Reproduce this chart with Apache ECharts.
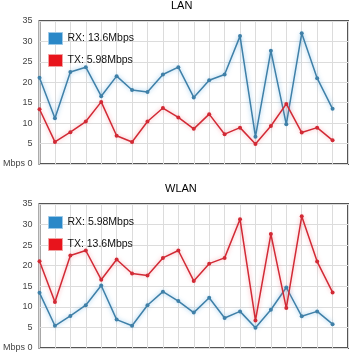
<!DOCTYPE html>
<html><head><meta charset="utf-8">
<script src="https://cdn.jsdelivr.net/npm/echarts@6/dist/echarts.min.js"></script>
<style>html,body{margin:0;padding:0;background:#fff}#c{width:350px;height:355px}</style>
</head><body><div id="c"></div>
<script>
var lanRX = [21.1, 11.2, 22.5, 23.7, 16.6, 21.5, 18.1, 17.6, 21.9, 23.7, 16.3, 20.5, 21.9, 31.3, 6.7, 27.7, 9.7, 32.0, 21.0, 13.5];
var lanTX = [13.4, 5.4, 7.8, 10.4, 15.2, 6.9, 5.4, 10.4, 13.7, 11.4, 8.6, 12.2, 7.3, 8.9, 4.9, 9.3, 14.7, 7.7, 8.9, 5.8];
var wlanRX = [13.4, 5.4, 7.8, 10.4, 15.2, 6.9, 5.4, 10.4, 13.7, 11.4, 8.6, 12.2, 7.3, 8.9, 4.9, 9.3, 14.7, 7.7, 8.9, 5.8];
var wlanTX = [21.1, 11.2, 22.5, 23.7, 16.6, 21.5, 18.1, 17.6, 21.9, 23.7, 16.3, 20.5, 21.9, 31.3, 6.7, 27.7, 9.7, 32.0, 21.0, 13.5];
var titles = ['LAN', 'WLAN'];
var lanNames = ['RX: 13.6Mbps', 'TX: 5.98Mbps'];
var wlanNames = ['RX: 5.98Mbps', 'TX: 13.6Mbps'];
var yTicks = [0, 5, 10, 15, 20, 25, 30, 35];

var BLUE = '#3f80a8', RED = '#d22a35';
function pts(a){ return a.map(function(v,i){ return [i, v]; }); }
function mkSeries(name, data, color, glow, idx){
  return {type:'line', name:name, xAxisIndex:idx, yAxisIndex:idx, data:pts(data),
    symbol:'circle', symbolSize:4, itemStyle:{color:color},
    lineStyle:{color:color, width:1.5, shadowColor:glow, shadowBlur:4},
    animation:false};
}
function xAx(idx){
  return {type:'value', gridIndex:idx, min:0, max:20, interval:1,
    axisLine:{show:false}, axisTick:{show:false}, axisLabel:{show:false},
    splitLine:{show:true, lineStyle:{color:'#dcdcdc', width:1}}};
}
function yAx(idx){
  return {type:'value', gridIndex:idx, min:yTicks[0], max:yTicks[yTicks.length-1], interval:5,
    axisLine:{show:false}, axisTick:{show:false},
    axisLabel:{margin:7, color:'#444', fontSize:9, fontFamily:'Liberation Sans, Arial',
      formatter:function(v){ return v===0 ? 'Mbps 0' : String(v); }},
    splitLine:{show:true, lineStyle:{color:'#dcdcdc', width:1}}};
}
function legend(names, top){
  return {orient:'vertical', left:48, top:top, padding:0, itemWidth:14, itemHeight:12, itemGap:9,
    textStyle:{fontSize:10.5, color:'#111', fontFamily:'Liberation Sans, Arial'},
    selectedMode:false,
    data:[
      {name:names[0], icon:'rect', itemStyle:{color:'#2a88c8', borderColor:'#9cc8e6', borderWidth:1}},
      {name:names[1], icon:'rect', itemStyle:{color:'#e8141c', borderColor:'#f0a0a0', borderWidth:1}}
    ]};
}
var chart = echarts.init(document.getElementById('c'), null, {renderer:'canvas'});
chart.setOption({
  animation:false,
  title:[
    {text:titles[0], left:171, top:0, padding:0, textStyle:{fontSize:11, fontWeight:'normal', color:'#000', fontFamily:'Liberation Sans, Arial'}},
    {text:titles[1], left:165, top:183, padding:0, textStyle:{fontSize:11, fontWeight:'normal', color:'#000', fontFamily:'Liberation Sans, Arial'}}
  ],
  legend:[legend(lanNames, 32), legend(wlanNames, 216)],
  grid:[
    {left:37, top:21, width:311, height:143, show:true, borderColor:'#555', borderWidth:2, backgroundColor:'transparent'},
    {left:37, top:204, width:311, height:144, show:true, borderColor:'#555', borderWidth:2, backgroundColor:'transparent'}
  ],
  xAxis:[xAx(0), xAx(1)],
  yAxis:[yAx(0), yAx(1)],
  series:[
    mkSeries(lanNames[0], lanRX, BLUE, 'rgba(90,170,225,0.7)', 0),
    mkSeries(lanNames[1], lanTX, RED, 'rgba(240,110,120,0.6)', 0),
    mkSeries(wlanNames[0], wlanRX, BLUE, 'rgba(90,170,225,0.7)', 1),
    mkSeries(wlanNames[1], wlanTX, RED, 'rgba(240,110,120,0.6)', 1)
  ]
});
</script></body></html>
